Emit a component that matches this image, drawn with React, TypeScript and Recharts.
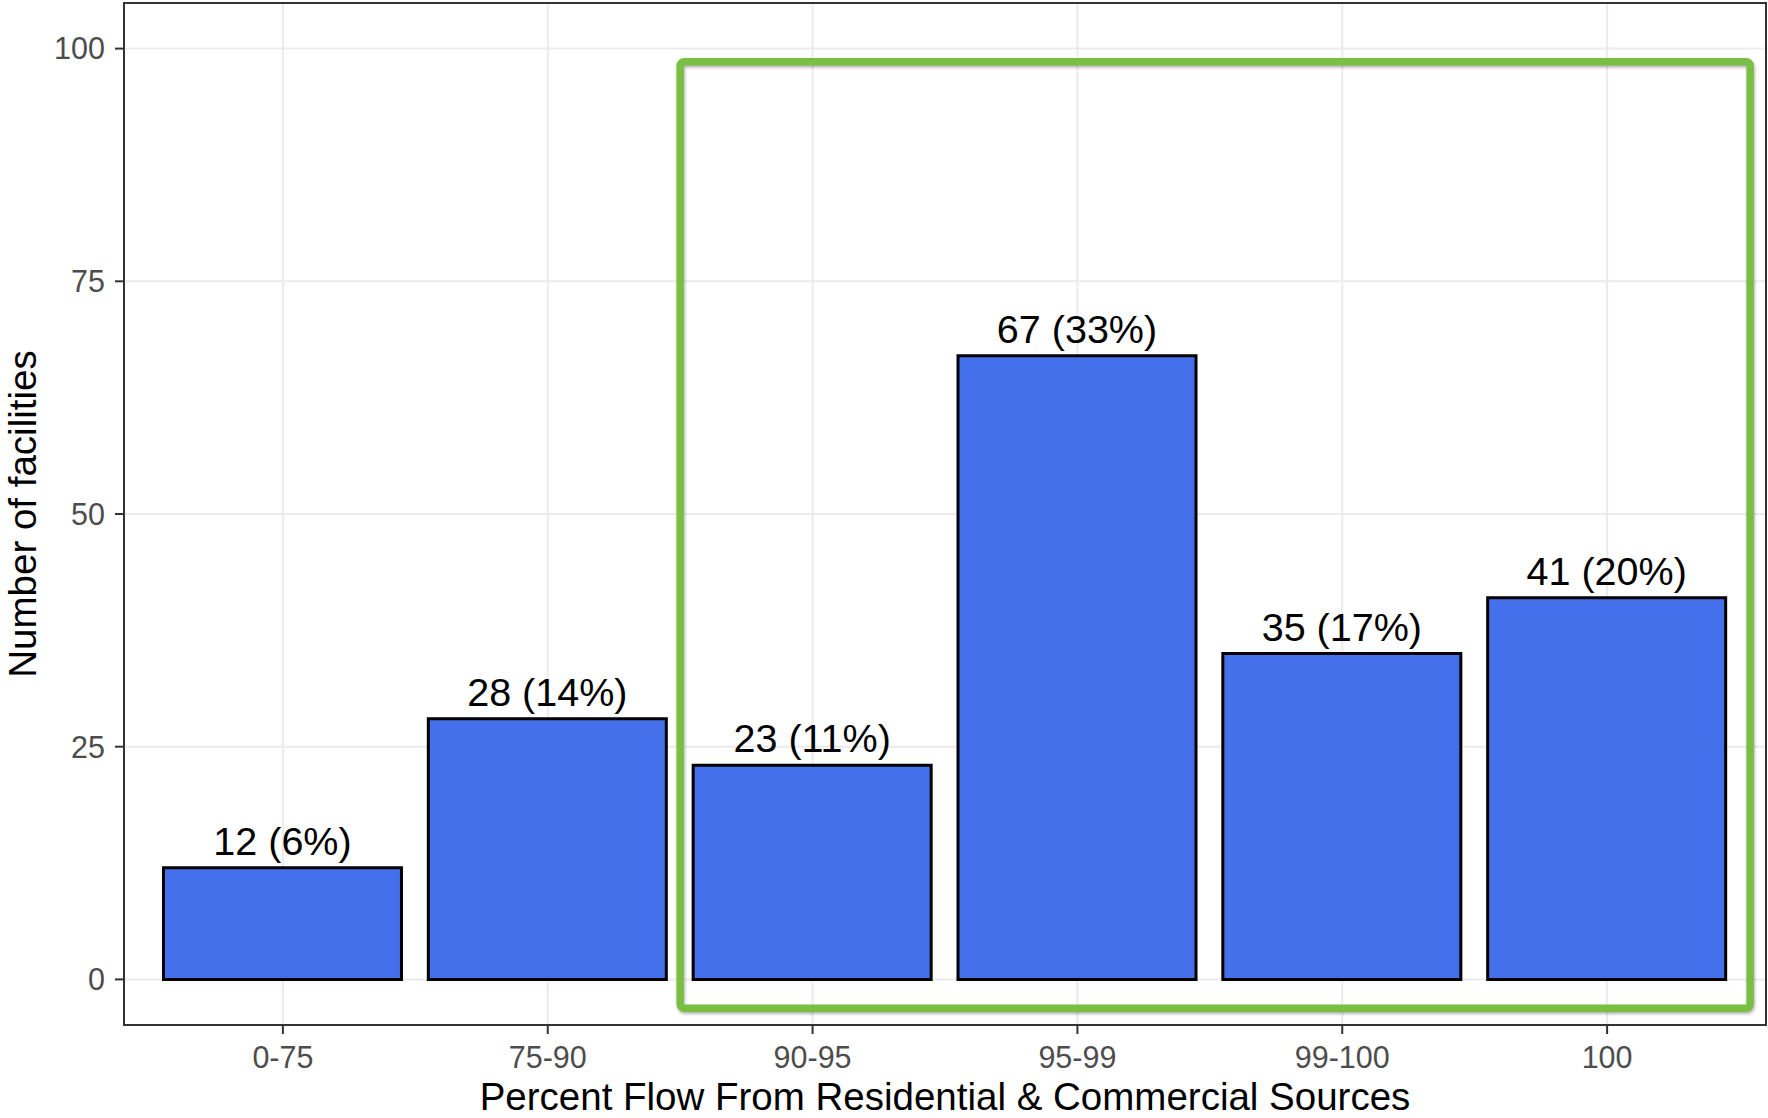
import { BarChart, Bar, XAxis, YAxis, CartesianGrid, LabelList, ReferenceArea } from 'recharts'

const categories = ['0-75', '75-90', '90-95', '95-99', '99-100', '100']
const facilities = [12, 28, 23, 67, 35, 41]
const percents = [6, 14, 11, 33, 17, 20]
const yTicks = [0, 25, 50, 75, 100]

// highlighted group spans the last four bins
const highlight = { x1: 2.5, x2: 6.54, y1: -3.1, y2: 98.6 }

const data = categories.map((c, i) => ({
  pos: i + 1,
  category: c,
  count: facilities[i],
  label: `${facilities[i]} (${percents[i]}%)`,
}))

const FONT = '"Liberation Sans", Arial, sans-serif'
const tickStyle = { fill: '#4D4D4D', fontSize: 30.5, fontFamily: FONT }

function HighlightBox(props: any) {
  const { x, y, width, height } = props
  return (
    <rect
      x={x}
      y={y}
      width={width}
      height={height}
      rx={4}
      ry={4}
      fill="none"
      stroke="#79BF43"
      strokeWidth={7.5}
      style={{ filter: 'drop-shadow(1px 2px 1.5px rgba(0,0,0,0.3))' }}
    />
  )
}

function YTitle(props: any) {
  const { viewBox } = props
  const cx = viewBox.x + 22
  const cy = viewBox.y + viewBox.height / 2
  return (
    <text
      x={cx}
      y={cy}
      transform={`rotate(-90 ${cx} ${cy})`}
      textAnchor="middle"
      dominantBaseline="central"
      fontSize={38.5}
      fontFamily={FONT}
      fill="#000"
    >
      Number of facilities
    </text>
  )
}

function XTitle(props: any) {
  const { viewBox } = props
  return (
    <text
      x={viewBox.x + viewBox.width / 2}
      y={viewBox.y + 71}
      textAnchor="middle"
      dominantBaseline="central"
      fontSize={38.5}
      fontFamily={FONT}
      fill="#000"
    >
      Percent Flow From Residential &amp; Commercial Sources
    </text>
  )
}

export default function App() {
  return (
    <div style={{ position: 'absolute', left: 0, top: 0, background: '#fff' }}>
      <BarChart
        width={1768}
        height={1118}
        data={data}
        margin={{ top: 3, right: 2, left: 0, bottom: 0 }}
      >
        <CartesianGrid stroke="#EBEBEB" strokeWidth={2} />
        <XAxis
          dataKey="pos"
          type="number"
          domain={[0.4, 6.6]}
          ticks={[1, 2, 3, 4, 5, 6]}
          interval={0}
          tickFormatter={(v: number) => categories[v - 1]}
          height={93}
          tick={tickStyle}
          tickSize={9}
          tickMargin={12}
          tickLine={{ stroke: '#333', strokeWidth: 2 }}
          axisLine={false}
          allowDataOverflow
          label={<XTitle />}
        />
        <YAxis
          type="number"
          domain={[-4.9, 104.9]}
          ticks={yTicks}
          interval={0}
          width={124}
          tick={tickStyle}
          tickSize={9}
          tickMargin={10}
          tickLine={{ stroke: '#333', strokeWidth: 2 }}
          axisLine={false}
          allowDataOverflow
          label={<YTitle />}
        />
        <Bar
          dataKey="count"
          fill="#4570EC"
          stroke="#000"
          strokeWidth={3}
          barSize={238}
          isAnimationActive={false}
        >
          <LabelList
            dataKey="label"
            position="top"
            offset={13}
            fill="#000"
            fontSize={39.5}
            fontFamily={FONT}
          />
        </Bar>
        <ReferenceArea
          x1={highlight.x1}
          x2={highlight.x2}
          y1={highlight.y1}
          y2={highlight.y2}
          shape={<HighlightBox />}
        />
        <ReferenceArea
          x1={0.4}
          x2={6.6}
          y1={-4.9}
          y2={104.9}
          fill="none"
          stroke="#333"
          strokeWidth={2}
        />
      </BarChart>
    </div>
  )
}
